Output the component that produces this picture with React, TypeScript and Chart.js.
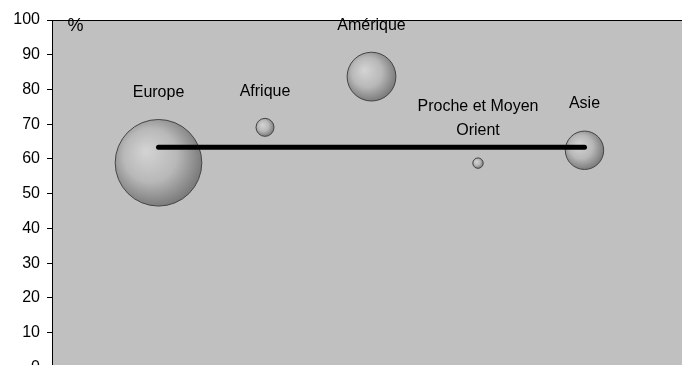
import React, { useEffect, useRef } from "react";
import { Chart, registerables } from "chart.js";

Chart.register(...registerables);

// ---- data ----
const categories = ["Europe", "Afrique", "Amérique", "Proche et Moyen\nOrient", "Asie"];
const xPositions = [1, 2, 3, 4, 5];
const shares = [58.9, 69.1, 83.7, 58.8, 62.5];
const bubbleSizes = [43.3, 9, 24.4, 5.2, 19.2];
const averageShare = 63.4;
const yMin = 0;
const yMax = 100;
const yStep = 10;
const unitLabel = "%";

const FONT = "'Liberation Sans', Arial, sans-serif";

const decorPlugin = {
  id: "decor",
  beforeDraw(chart: any) {
    const { ctx, chartArea } = chart;
    ctx.save();
    ctx.fillStyle = "#c0c0c0";
    ctx.fillRect(chartArea.left, chartArea.top, chartArea.right - chartArea.left, chartArea.bottom - chartArea.top);
    ctx.restore();
  },
  beforeDatasetsDraw(chart: any) {
    const ctx = chart.ctx;
    chart.data.datasets.forEach((ds: any, di: number) => {
      if (ds.type !== "bubble") return;
      const meta = chart.getDatasetMeta(di);
      meta.data.forEach((el: any, i: number) => {
        const px = el.x;
        const py = el.y;
        const r = bubbleSizes[i];
        if (!isFinite(px) || !isFinite(py)) return;
        const g = ctx.createRadialGradient(px - r * 0.3, py - r * 0.27, 0, px - r * 0.1, py - r * 0.1, r * 1.12);
        g.addColorStop(0, "#d4d4d4");
        g.addColorStop(0.55, "#b8b8b8");
        g.addColorStop(1, "#7a7a7a");
        if (el.options) el.options.backgroundColor = g;
      });
    });
  },
  afterDraw(chart: any) {
    const { ctx, chartArea, scales } = chart;
    ctx.save();
    // top border
    ctx.strokeStyle = "#000";
    ctx.lineWidth = 1;
    ctx.beginPath();
    ctx.moveTo(chartArea.left, chartArea.top + 0.5);
    ctx.lineTo(chartArea.right, chartArea.top + 0.5);
    ctx.stroke();
    // unit label
    ctx.fillStyle = "#000";
    ctx.font = `18px ${FONT}`;
    ctx.textAlign = "center";
    ctx.textBaseline = "middle";
    ctx.fillText(unitLabel, chartArea.left + 23.5, chartArea.top + 6);
    // category labels
    ctx.font = `16px ${FONT}`;
    categories.forEach((name, i) => {
      const px = scales.x.getPixelForValue(xPositions[i]);
      const top = scales.y.getPixelForValue(shares[i]) - bubbleSizes[i];
      const lines = name.split("\n");
      lines.forEach((line, j) => {
        const fromBottom = lines.length - 1 - j;
        ctx.fillText(line, px, top - 27 - fromBottom * 24);
      });
    });
    ctx.restore();
  },
};

export default function App() {
  const ref = useRef<HTMLCanvasElement>(null);
  useEffect(() => {
    if (!ref.current) return;
    const chart = new Chart(ref.current, {
      type: "bubble",
      data: {
        datasets: [
          {
            type: "line",
            data: [
              { x: xPositions[0], y: averageShare },
              { x: xPositions[xPositions.length - 1], y: averageShare },
            ],
            borderColor: "#000",
            borderWidth: 5,
            borderCapStyle: "round",
            pointRadius: 0,
            order: 0,
          } as any,
          {
            type: "bubble",
            data: xPositions.map((x, i) => ({ x, y: shares[i], r: bubbleSizes[i] })),
            backgroundColor: "#a8a8a8",
            borderColor: "#454545",
            borderWidth: 1,
            order: 1,
          } as any,
        ],
      },
      options: {
        responsive: true,
        maintainAspectRatio: false,
        animation: false,
        events: [],
        layout: { autoPadding: false, padding: { top: 20, bottom: 22.6, left: 0, right: 0 } },
        plugins: { legend: { display: false }, tooltip: { enabled: false } },
        scales: {
          x: { type: "linear", min: 0, max: 6, display: false },
          y: {
            type: "linear",
            min: yMin,
            max: yMax,
            ticks: { stepSize: yStep, color: "#000", font: { family: FONT, size: 16 }, padding: 7 },
            grid: { drawOnChartArea: false, drawTicks: true, tickLength: 5, color: "#000", lineWidth: 1 },
            border: { display: true, color: "#000", width: 1 },
            afterFit: (s: any) => {
              s.width = 52;
            },
          },
        },
      },
      plugins: [decorPlugin],
    });
    return () => chart.destroy();
  }, []);
  return (
    <div style={{ position: "absolute", left: 0, top: 0, width: 682, height: 365, overflow: "hidden", background: "#fff" }}>
      <div style={{ position: "relative", width: 691, height: 390 }}>
        <canvas ref={ref} />
      </div>
    </div>
  );
}
